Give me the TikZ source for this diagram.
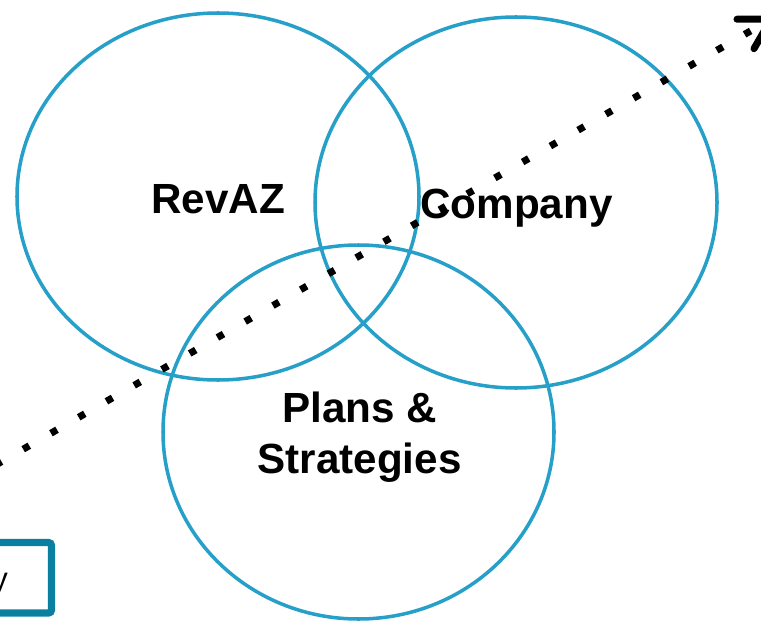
\documentclass[tikz,border=0pt]{standalone}
\usepackage{fontspec}
\setmainfont{Liberation Sans}
\usepackage[svgnames, dvipsnames]{xcolor}
\usetikzlibrary{calc, arrows.meta}
\definecolor{vennblue}{HTML}{26A0C8}
\definecolor{boxteal}{HTML}{0A7FA0}
\tikzset{>=latex,
  venn/.style={draw=vennblue, line width=2.5pt},
  label/.style={font=\bfseries\fontsize{30}{36}\selectfont, inner sep=0pt, align=center},
  trend/.style={line width=5pt, dash pattern=on 5pt off 17.76pt},
  barb/.style={line width=5pt, line cap=round, line join=round}
}

\begin{document}
\begin{tikzpicture}[x=0.025cm, y=0.025cm]
\useasboundingbox (0,0) rectangle (761,621);
\clip (0,0) rectangle (761,621);
\draw[venn] (218,424.5) ellipse [x radius=201, y radius=183.5];
\draw[venn] (516,418.5) ellipse [x radius=201, y radius=185.5];
\draw[venn] (358.5,189) ellipse [x radius=195.5, y radius=187];
\node[label, anchor=base] (revaz) at (218,408) {RevAZ};
\node[label, anchor=base] (company) at (516.5,402.7) {Company};
\node[label] (plans) at (359.5,184) {Plans \&\\Strategies};
\coordinate (start) at (-32.3,139.9);
\coordinate (tip) at (771,601.8);
\draw[trend] (start) -- (tip);
\draw[barb] (tip) ++(180:34) -- (tip) -- ++(240:34);
\draw[boxteal, line width=5pt, rounded corners=2pt] (-100,8) rectangle (51.5,78.5);
\node[font=\fontsize{22}{26}\selectfont, inner sep=0pt, anchor=base east] (strategy) at (8,32) {y};
\end{tikzpicture}
\end{document}
